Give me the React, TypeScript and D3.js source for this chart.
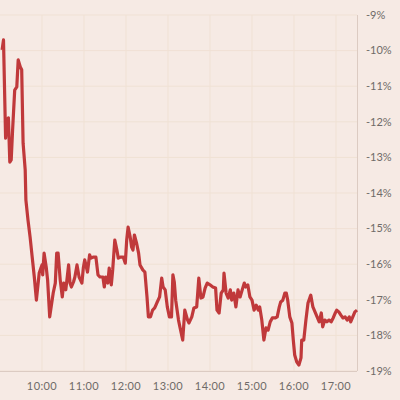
import { useEffect, useRef } from 'react'
import * as d3 from 'd3'

// minutes after 09:00 and percent change
const minutes = [3, 5, 8, 10, 12, 14, 16, 18, 21, 24, 26, 29, 31, 33, 36, 37, 40, 43, 46, 49,
  52, 56, 60, 61, 63, 66, 68, 71, 76, 79, 81, 83, 86, 89, 91, 94, 98, 100, 102, 105,
  107, 110, 113, 117, 119, 121, 125, 128, 130, 133, 137, 140, 143, 147, 149, 151, 154, 156, 159, 161,
  164, 167, 169, 172, 176, 179, 181, 183, 186, 188, 190, 192, 195, 198, 200, 204, 207, 210, 212, 215,
  218, 221, 224, 228, 231, 233, 236, 239, 242, 245, 247, 249, 251, 255, 257, 261, 264, 268, 270, 274,
  277, 281, 284, 287, 290, 293, 296, 300, 304, 308, 310, 313, 316, 319, 320, 323, 326, 329, 331, 334,
  337, 340, 343, 346, 349, 351, 354, 357, 360, 363, 366, 369, 371, 374, 377, 380, 383, 386, 389, 393,
  396, 399, 401, 404, 407, 409, 411, 414, 417, 419, 421, 424, 427, 430, 431, 434, 437, 440, 443, 444,
  447, 450, 453, 456, 459, 461, 464, 467, 470, 473, 476, 479, 481, 484, 487, 490, 493, 496, 499, 501,
  504, 507, 510]

const changes = [-9.98, -9.70, -12.46, -11.95, -11.89, -13.13, -13.07, -12.23, -11.11, -11.02, -10.26, -10.46, -10.54, -12.60, -13.35, -14.20, -14.76, -15.24, -15.80, -16.36,
  -17.01, -16.25, -16.02, -16.30, -15.69, -16.08, -16.44, -17.48, -16.81, -16.53, -15.69, -15.69, -16.44, -16.92, -16.53, -16.72, -16.02, -16.53, -16.64, -16.50,
  -16.36, -16.02, -16.36, -16.53, -16.11, -15.88, -16.22, -15.74, -15.83, -15.80, -15.80, -16.30, -16.36, -16.36, -16.64, -16.36, -16.53, -16.11, -16.58, -16.16,
  -15.32, -15.60, -15.83, -15.80, -15.80, -15.97, -15.32, -14.96, -15.24, -15.52, -15.60, -15.18, -15.40, -15.69, -16.02, -16.16, -16.22, -16.92, -17.48, -17.48,
  -17.29, -17.23, -17.09, -16.92, -16.39, -16.64, -16.72, -17.20, -17.48, -17.48, -16.30, -16.50, -17.01, -17.57, -17.76, -18.13, -17.29, -17.57, -17.65, -17.48,
  -17.23, -17.20, -16.39, -16.95, -16.92, -16.67, -16.53, -16.58, -16.64, -16.67, -17.29, -17.37, -16.81, -16.72, -16.25, -16.81, -16.95, -16.72, -17.01, -16.81,
  -17.20, -16.72, -16.92, -16.72, -16.53, -16.64, -16.58, -16.92, -17.01, -17.29, -17.15, -17.29, -17.20, -17.57, -18.13, -17.79, -17.85, -17.62, -17.51, -17.51,
  -17.48, -17.20, -17.06, -17.01, -16.81, -16.81, -17.01, -17.48, -17.65, -18.13, -18.55, -18.75, -18.83, -18.63, -18.13, -18.13, -17.57, -17.09, -16.92, -16.87,
  -17.20, -17.34, -17.48, -17.62, -17.37, -17.76, -17.57, -17.62, -17.57, -17.62, -17.51, -17.37, -17.29, -17.34, -17.43, -17.51, -17.48, -17.57, -17.48, -17.62,
  -17.48, -17.34, -17.29]

const yTicks = [-9, -10, -11, -12, -13, -14, -15, -16, -17, -18, -19]
const xTickHours = [10, 11, 12, 13, 14, 15, 16, 17]

const day = new Date(2020, 0, 1, 9, 0)
const at = (m) => new Date(day.getTime() + m * 60000)

function App() {
  const ref = useRef(null)
  const width = 400
  const height = 400
  const plot = { left: 0, right: 357, top: 15, bottom: 371 }

  useEffect(() => {
    const svg = d3.select(ref.current)
    svg.selectAll('*').remove()

    const x = d3.scaleTime().domain([at(0), at(510)]).range([plot.left, plot.right])
    const y = d3.scaleLinear().domain([-19, -9]).range([plot.bottom, plot.top])

    svg.append('rect').attr('width', width).attr('height', height).attr('fill', '#f6eae4')

    const grid = svg.append('g')
    grid.selectAll('line.h')
      .data(yTicks)
      .join('line')
      .attr('class', 'h')
      .attr('x1', plot.left).attr('x2', plot.right)
      .attr('y1', d => y(d)).attr('y2', d => y(d))
      .attr('stroke', '#f0e1d4').attr('stroke-width', 1)
    grid.selectAll('line.v')
      .data(xTickHours)
      .join('line')
      .attr('class', 'v')
      .attr('x1', d => x(at((d - 9) * 60))).attr('x2', d => x(at((d - 9) * 60)))
      .attr('y1', plot.top).attr('y2', plot.bottom)
      .attr('stroke', '#f0e1d4').attr('stroke-width', 1)

    // axis lines
    svg.append('line')
      .attr('x1', plot.right + 0.5).attr('x2', plot.right + 0.5)
      .attr('y1', plot.top).attr('y2', plot.bottom)
      .attr('stroke', '#dccbc2')
    svg.append('line')
      .attr('x1', plot.left).attr('x2', plot.right)
      .attr('y1', plot.bottom + 0.5).attr('y2', plot.bottom + 0.5)
      .attr('stroke', '#dccbc2')

    const points = minutes.map((m, i) => ({ t: at(m), v: changes[i] }))
    const line = d3.line<any>().x(d => x(d.t)).y(d => y(d.v))
    svg.append('path')
      .datum(points)
      .attr('d', line)
      .attr('fill', 'none')
      .attr('stroke', '#c0393b')
      .attr('stroke-width', 3.2)
      .attr('stroke-linejoin', 'round')

    svg.append('g').selectAll('text')
      .data(yTicks)
      .join('text')
      .attr('x', 366)
      .attr('y', d => y(d))
      .attr('dy', '0.35em')
      .attr('font-family', 'Lato')
      .attr('font-size', 11)
      .attr('fill', '#6f6a68')
      .text(d => `${d}%`)

    svg.append('g').selectAll('text')
      .data(xTickHours)
      .join('text')
      .attr('x', d => x(at((d - 9) * 60)))
      .attr('y', 386)
      .attr('dy', '0.35em')
      .attr('text-anchor', 'middle')
      .attr('font-family', 'Lato')
      .attr('font-size', 11)
      .attr('letter-spacing', 0.4)
      .attr('fill', '#6f6a68')
      .text(d => `${d}:00`)
  }, [])

  return (
    <div style={{ position: 'absolute', left: 0, top: 0 }}>
      <svg ref={ref} width={width} height={height} style={{ display: 'block' }}></svg>
    </div>
  )
}

export default App
